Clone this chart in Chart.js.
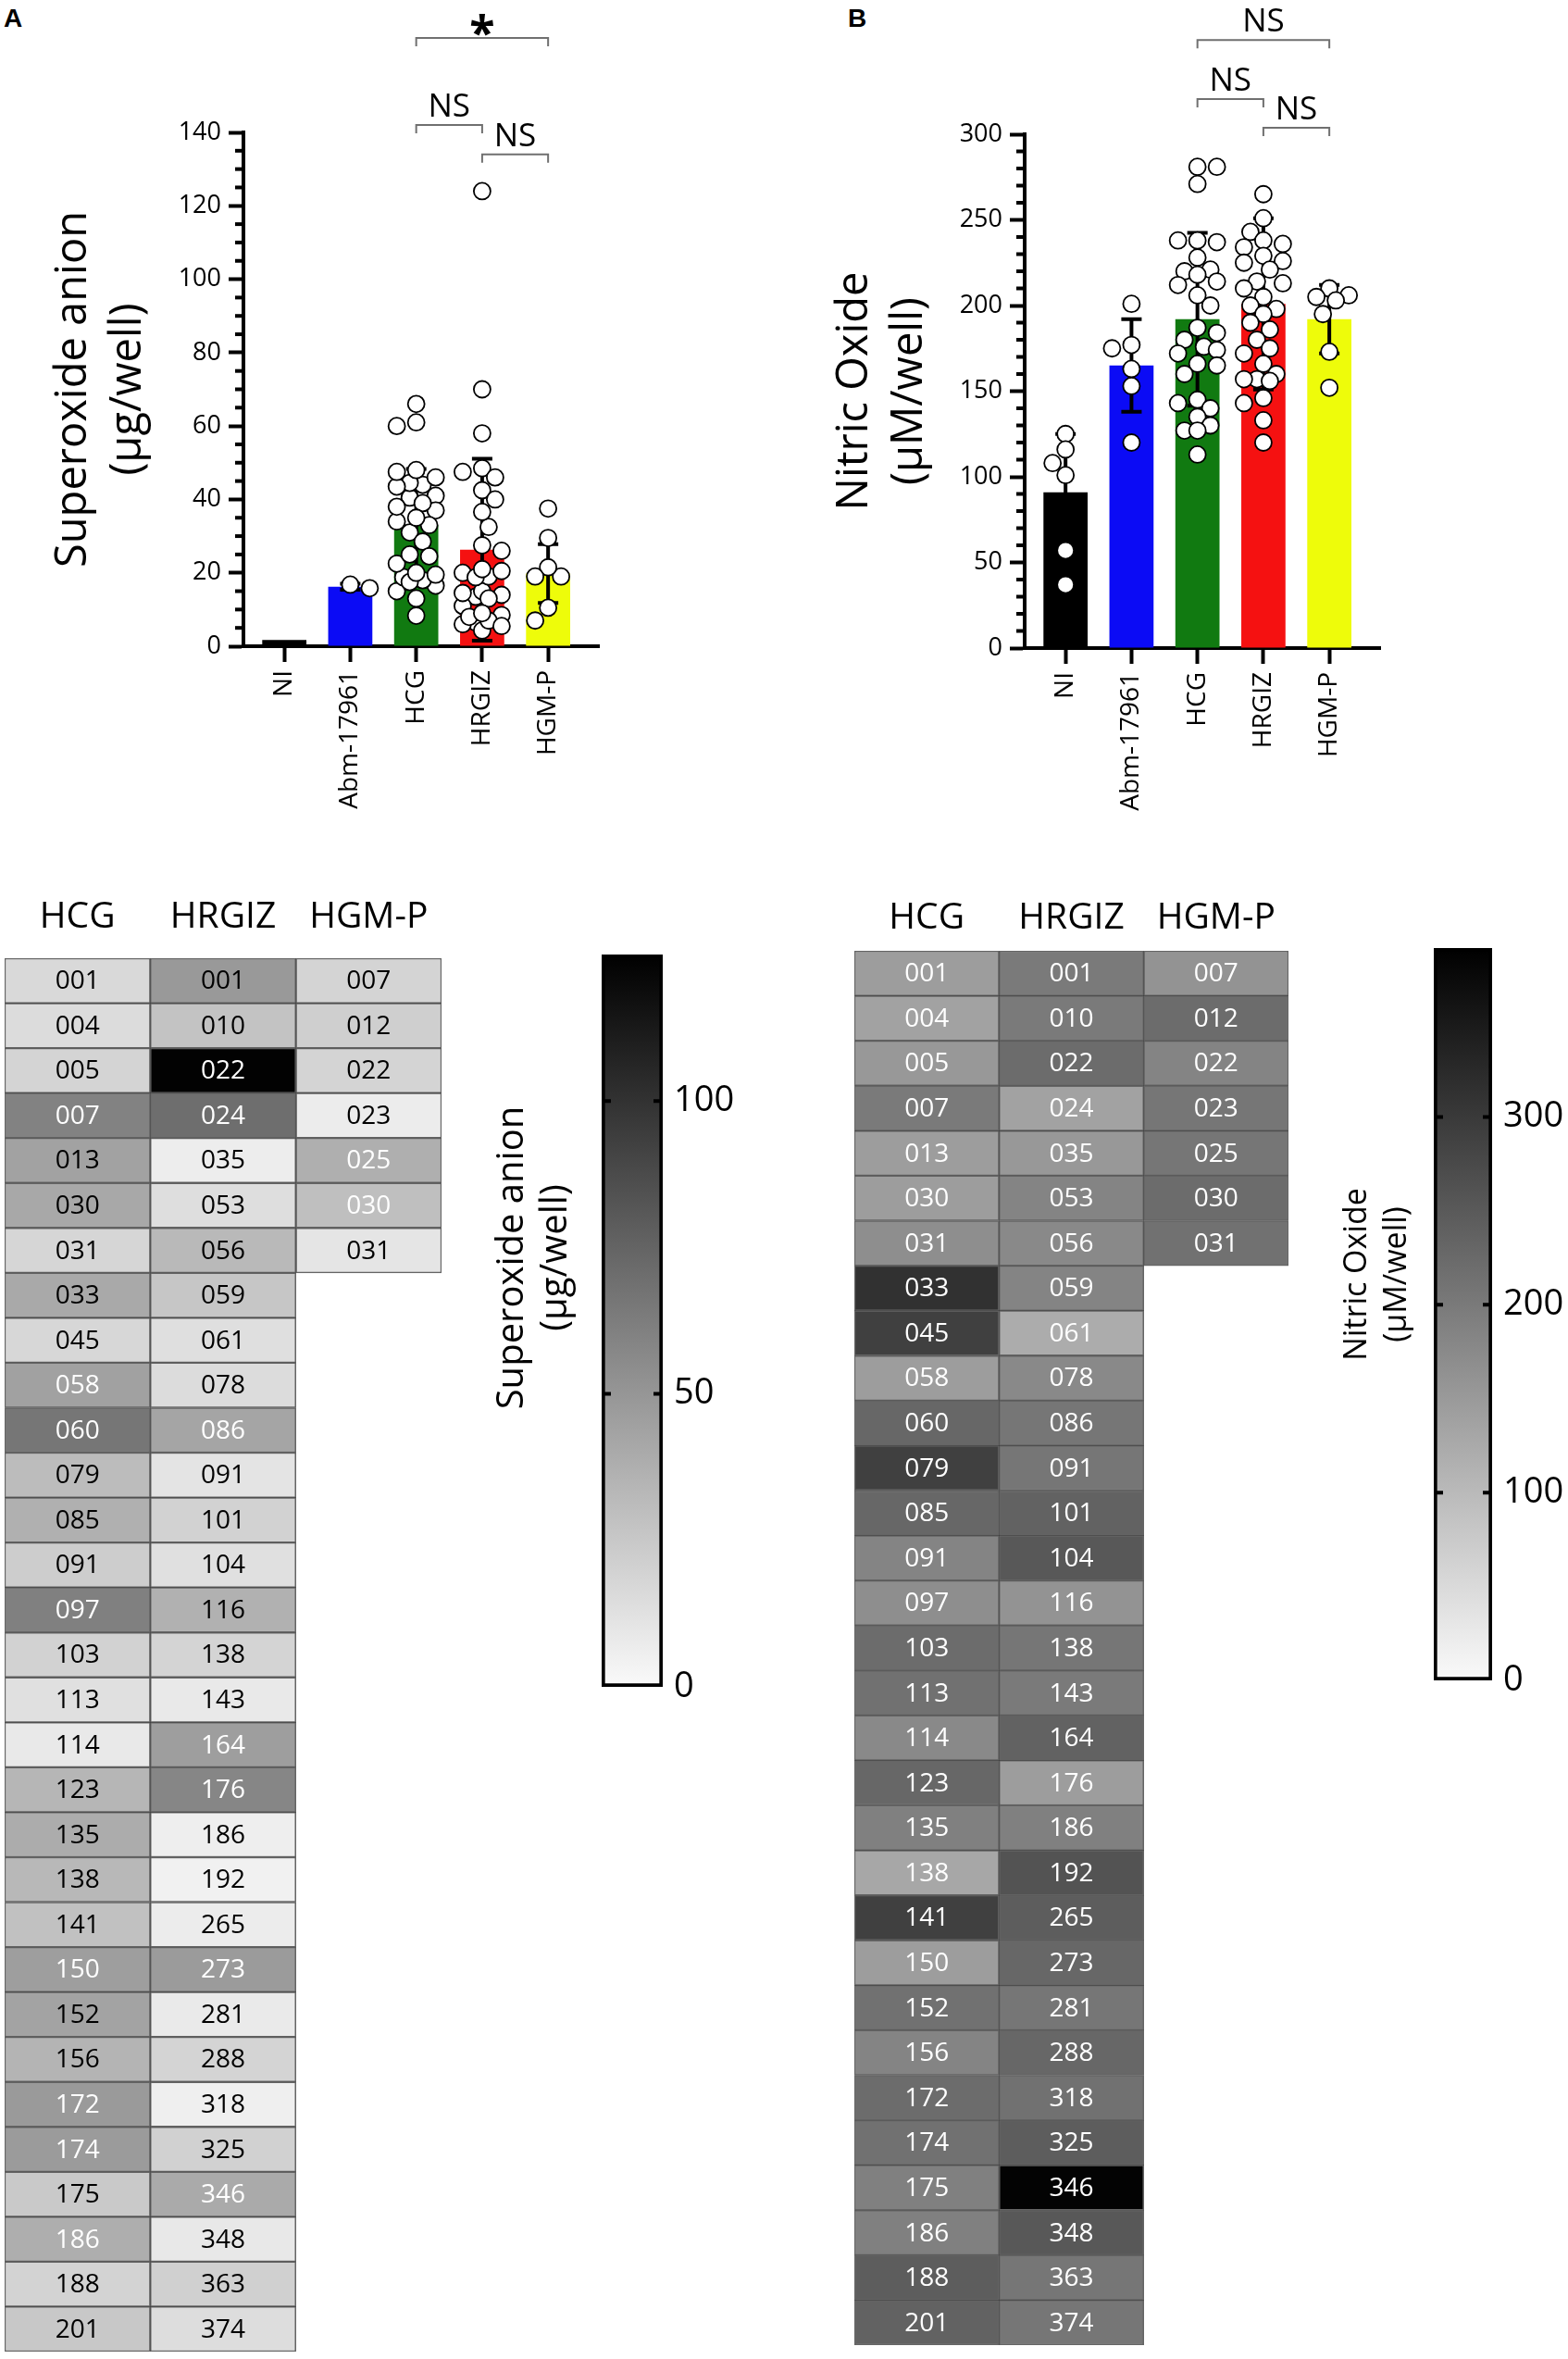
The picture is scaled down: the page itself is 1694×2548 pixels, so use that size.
<!DOCTYPE html>
<html>
<head>
<meta charset="utf-8">
<script src="https://cdn.jsdelivr.net/npm/chart.js@4.4.0/dist/chart.umd.min.js"></script>
<style>
  body { margin: 0; background: #fff; width: 1694px; height: 2548px; position: relative; overflow: hidden; }
  canvas { position: absolute; }
  .panel { position: absolute; font: bold 28px 'Liberation Sans', Arial, sans-serif; line-height: 1; }
</style>
</head>
<body>
<div class="panel" style="left:4px;top:6px">A</div>
<div class="panel" style="left:916px;top:6px">B</div>
<canvas id="barA" width="847" height="900" style="left:0;top:0"></canvas>
<canvas id="barB" width="847" height="900" style="left:844px;top:2px"></canvas>
<canvas id="heatA" width="500" height="1608" style="left:0;top:940px"></canvas>
<canvas id="scaleA" width="347" height="900" style="left:500px;top:980px"></canvas>
<canvas id="heatB" width="520" height="1611" style="left:900px;top:937px"></canvas>
<canvas id="scaleB" width="294" height="900" style="left:1400px;top:975px"></canvas>
<script>
// grupos del grafico de barras
const groups = ['NI', 'Abm-17961', 'HCG', 'HRGIZ', 'HGM-P'];
const columns = ['HCG', 'HRGIZ', 'HGM-P'];

// aislados de cada linaje
const hcgIds = ['001', '004', '005', '007', '013', '030', '031', '033', '045', '058', '060', '079', '085', '091', '097', '103',
  '113', '114', '123', '135', '138', '141', '150', '152', '156', '172', '174', '175', '186', '188', '201'];
const hrgizIds = ['001', '010', '022', '024', '035', '053', '056', '059', '061', '078', '086', '091', '101', '104', '116', '138',
  '143', '164', '176', '186', '192', '265', '273', '281', '288', '318', '325', '346', '348', '363', '374'];
const hgmpIds = ['007', '012', '022', '023', '025', '030', '031'];

// superoxido (A)
const supMean = [1.7, 16.2, 33, 26.3, 19.8];
const supSD = [0, 0.8, 15.3, 24.8, 8];
const supNI = [];
const supAbm = [15.8, 16.8];
const supHCG = [16.5, 15, 18.8, 60, 44, 41, 18, 40.5, 17.5, 44.5, 66, 31, 37, 22.5, 61, 20,
  13, 8.3, 34, 39, 33, 28.5, 46, 43.5, 35, 48, 47.5, 24.5, 38, 19.5, 25];
const supHRGIZ = [48.5, 27.5, 124, 70, 6.5, 14, 32.5, 26, 13.5, 15, 42.5, 11, 20, 13, 36.6, 19,
  8.5, 46, 58, 6, 4.3, 7, 47.5, 8, 18.8, 5.5, 20.5, 40, 9, 21, 14.5];
const supHGMP = [19, 21.5, 19, 7, 37.5, 29.5, 10.5];
const supTicks = [0, 20, 40, 60, 80, 100, 120, 140];
const supScaleTicks = [0, 50, 100];
const supCompare = [[2, 4, '*'], [2, 3, 'NS'], [3, 4, 'NS']];
// etiquetas blancas en el mapa de calor A
const supWhite = [['007', '058', '060', '097', '150', '172', '174', '186'],
  ['022', '024', '086', '164', '176', '273', '346'], ['025', '030']];

// oxido nitrico (B)
const noMean = [91, 165, 192, 201, 192];
const noSD = [34, 27, 50.5, 50, 20];
const noNI = [125, 116, 108, 101, 57, 37];
const noAbm = [201, 175, 177, 163, 153, 120];
const noHCG = [281, 281, 271, 238, 238, 237, 228, 221, 220, 218, 214, 212, 206, 200, 187, 184,
  180, 176, 174, 172, 166, 165, 160, 145, 143, 140, 135, 130, 127, 127, 113];
const noHRGIZ = [265, 251, 243, 238, 236, 234, 229, 226, 225, 221, 214, 213, 210, 205, 200, 198,
  195, 190, 186, 180, 175, 172, 166, 160, 157, 157, 156, 146, 143, 133, 120];
const noHGMP = [210, 206, 203, 205, 195, 173, 152];
const noTicks = [0, 50, 100, 150, 200, 250, 300];
const noScaleTicks = [0, 100, 200, 300];
const noCompare = [[2, 4, 'NS'], [2, 3, 'NS'], [3, 4, 'NS']];
// valores del mapa de calor B
const noMapHCG = [145, 138, 153, 199, 145, 145, 168, 314, 290, 145, 229, 290, 229, 184, 168, 222,
  214, 176, 229, 191, 130, 290, 145, 214, 184, 222, 214, 191, 191, 245, 237];
const noMapHRGIZ = [199, 199, 222, 138, 153, 184, 176, 184, 122, 176, 206, 206, 237, 252, 160, 206,
  199, 237, 145, 191, 260, 245, 229, 206, 229, 214, 245, 385, 252, 206, 206];
const noMapHGMP = [160, 222, 184, 206, 206, 222, 214];

const barColors = ['#000000', '#0b0bf5', '#117a11', '#f51111', '#eefc0a'];

Chart.defaults.font.family = "'Open Sans', sans-serif";
Chart.defaults.color = '#000';

function gray(v, max) {
  const g = Math.round(250 * (1 - Math.min(v, max) / max));
  return 'rgb(' + g + ',' + g + ',' + g + ')';
}

// marcas menores del eje y
const minorTicks = {
  id: 'minorTicks',
  afterDraw(chart, args, opts) {
    if (!opts.step) return;
    const { ctx, chartArea } = chart;
    const y = chart.scales.y;
    ctx.save();
    ctx.strokeStyle = '#000';
    ctx.lineWidth = 4;
    for (let v = 0; v <= y.max + 1e-9; v += opts.step) {
      if (opts.major.includes(v)) continue;
      const py = y.getPixelForValue(v);
      ctx.beginPath();
      ctx.moveTo(chartArea.left - 9, py);
      ctx.lineTo(chartArea.left, py);
      ctx.stroke();
    }
    ctx.restore();
  }
};

// barras de error (media +/- DE)
const errorBars = {
  id: 'errorBars',
  afterDatasetDraw(chart, args, opts) {
    if (args.index !== 0 || !opts.sd) return;
    const { ctx } = chart;
    const { x, y } = chart.scales;
    ctx.save();
    ctx.strokeStyle = '#000';
    ctx.lineWidth = 4;
    opts.mean.forEach((m, i) => {
      const sd = opts.sd[i];
      if (!sd) return;
      const px = x.getPixelForValue(i);
      const top = y.getPixelForValue(m + sd);
      const bot = y.getPixelForValue(Math.max(0, m - sd));
      ctx.beginPath();
      ctx.moveTo(px, top); ctx.lineTo(px, bot);
      ctx.moveTo(px - 11, top); ctx.lineTo(px + 11, top);
      ctx.moveTo(px - 11, bot); ctx.lineTo(px + 11, bot);
      ctx.stroke();
    });
    ctx.restore();
  }
};

// corchetes de comparacion
const brackets = {
  id: 'brackets',
  afterDraw(chart, args, opts) {
    if (!opts.items) return;
    const { ctx } = chart;
    const { x, y } = chart.scales;
    ctx.save();
    opts.items.forEach(([a, b, label], k) => {
      const x1 = x.getPixelForValue(a);
      const x2 = x.getPixelForValue(b);
      const yy = y.getPixelForValue(opts.levels[k]);
      ctx.strokeStyle = '#707070';
      ctx.lineWidth = 2;
      ctx.beginPath();
      ctx.moveTo(x1, yy + 9); ctx.lineTo(x1, yy); ctx.lineTo(x2, yy); ctx.lineTo(x2, yy + 9);
      ctx.stroke();
      ctx.fillStyle = '#000';
      ctx.textAlign = 'center';
      ctx.textBaseline = 'alphabetic';
      if (label === '*') {
        ctx.font = "bold 50px 'Open Sans'";
        ctx.fillText(label, (x1 + x2) / 2, yy + 12);
      } else {
        ctx.font = "35px 'Open Sans'";
        ctx.fillText(label, (x1 + x2) / 2, yy - 9);
      }
    });
    ctx.restore();
  }
};

// numeros de aislado dentro de las celdas
const cellLabels = {
  id: 'cellLabels',
  afterDatasetsDraw(chart, args, opts) {
    if (!opts.ids) return;
    const { ctx } = chart;
    ctx.save();
    ctx.font = "28px 'Open Sans'";
    ctx.textAlign = 'center';
    ctx.textBaseline = 'middle';
    chart.data.datasets.forEach((ds, r) => {
      chart.getDatasetMeta(r).data.forEach((el, c) => {
        const id = opts.ids[c][r];
        if (id === undefined) return;
        const white = opts.allWhite || opts.white[c].includes(id);
        ctx.fillStyle = white ? '#fff' : '#000';
        ctx.fillText(id, el.x, (el.y + el.base) / 2 + 1);
      });
    });
    ctx.restore();
  }
};

// marcas y titulo de la barra de color
const colorBarDeco = {
  id: 'colorBarDeco',
  afterDraw(chart, args, opts) {
    if (!opts.title) return;
    const { ctx, chartArea } = chart;
    const y = chart.scales.y;
    ctx.save();
    ctx.strokeStyle = '#000';
    ctx.lineWidth = 4;
    opts.ticks.forEach(v => {
      if (v === 0) return;
      const py = y.getPixelForValue(v);
      ctx.beginPath();
      ctx.moveTo(chartArea.left, py); ctx.lineTo(chartArea.left + 10, py);
      ctx.moveTo(chartArea.right - 10, py); ctx.lineTo(chartArea.right, py);
      ctx.stroke();
    });
    ctx.fillStyle = '#000';
    ctx.font = opts.size + "px 'Open Sans'";
    ctx.textAlign = 'center';
    ctx.textBaseline = 'middle';
    const cy = (chartArea.top + chartArea.bottom) / 2 + opts.dy;
    opts.title.forEach((line, i) => {
      ctx.save();
      ctx.translate(chartArea.left + opts.dx[i], cy);
      ctx.rotate(-Math.PI / 2);
      ctx.fillText(line, 0, 0);
      ctx.restore();
    });
    ctx.restore();
  }
};

Chart.register(minorTicks, errorBars, brackets, cellLabels, colorBarDeco);

// reparte los puntos como enjambre dentro de cada barra
function swarm(chart) {
  const { x, y } = chart.scales;
  const unit = x.getPixelForValue(1) - x.getPixelForValue(0);
  const r = 9, step = 7, maxOff = 22;
  chart.data.datasets.forEach(ds => {
    if (ds.type !== 'scatter') return;
    const placed = [];
    const pts = ds.data.slice().sort((a, b) => b.y - a.y);
    pts.forEach((p, n0) => {
      const cx = x.getPixelForValue(p.x), cy = y.getPixelForValue(p.y);
      let best = 0, bestD = -1, done = false;
      for (let n = 0; n * step <= maxOff && !done; n++) {
        const signs = n === 0 ? [1] : (n0 % 2 ? [1, -1] : [-1, 1]);
        for (const s of signs) {
          const off = s * n * step;
          let d = Infinity;
          placed.forEach(q => { d = Math.min(d, Math.hypot(q.px - (cx + off), q.py - cy)); });
          if (d >= 2 * r * 0.92) { best = off; done = true; break; }
          if (d > bestD) { bestD = d; best = off; }
        }
      }
      placed.push({ px: cx + best, py: cy });
      p.x = p.x + best / unit;
    });
  });
  chart.update('none');
}

function barChart(id, cfg) {
  const points = cfg.points.map((vals, i) => ({
    type: 'scatter',
    data: vals.map(v => ({ x: i, y: v })),
    pointRadius: 9,
    pointHoverRadius: 9,
    pointBackgroundColor: '#fff',
    pointBorderColor: '#000',
    pointBorderWidth: 1.8,
    order: 1
  }));
  const chart = new Chart(document.getElementById(id), {
    type: 'bar',
    data: {
      datasets: [{
        data: cfg.means.map((m, i) => ({ x: i, y: m })),
        backgroundColor: barColors,
        barPercentage: 0.67,
        categoryPercentage: 1,
        order: 2
      }, ...points]
    },
    options: {
      responsive: false,
      animation: false,
      events: [],
      layout: { padding: { left: 50, top: 143, right: 200, bottom: 0 } },
      plugins: {
        legend: { display: false },
        tooltip: { enabled: false },
        minorTicks: { step: cfg.minor, major: cfg.ticks },
        errorBars: { mean: cfg.means, sd: cfg.sd },
        brackets: { items: cfg.compare, levels: cfg.levels }
      },
      scales: {
        x: {
          type: 'linear',
          min: -0.62,
          max: 4.77,
          offset: false,
          afterBuildTicks: s => { s.ticks = groups.map((g, i) => ({ value: i })); },
          afterFit: s => { s.height = 202; },
          ticks: {
            callback: v => groups[v],
            minRotation: 90,
            maxRotation: 90,
            autoSkip: false,
            padding: 9,
            font: { size: 28 }
          },
          grid: { drawOnChartArea: false, offset: false, tickLength: 17, tickWidth: 4, tickColor: '#000' },
          border: { width: 4, color: '#000' }
        },
        y: {
          min: 0,
          max: cfg.max,
          afterBuildTicks: s => { s.ticks = cfg.ticks.map(v => ({ value: v })); },
          afterFit: s => { s.width = 213; },
          ticks: { padding: 8, font: { size: 27 } },
          grid: { drawOnChartArea: false, tickLength: 16, tickWidth: 4, tickColor: '#000' },
          border: { width: 4, color: '#000' },
          title: { display: true, text: cfg.title, font: { size: 47, lineHeight: 1.25 }, padding: 0 }
        }
      }
    }
  });
  swarm(chart);
}

function heatmap(id, cfg) {
  const nRows = Math.max(...cfg.ids.map(c => c.length));
  const datasets = [];
  for (let r = 0; r < nRows; r++) {
    datasets.push({
      data: cfg.vals.map(c => (r < c.length ? 1 : null)),
      backgroundColor: cfg.vals.map(c => (r < c.length ? gray(c[r], cfg.max) : 'rgba(0,0,0,0)')),
      borderColor: 'rgba(50,50,50,0.75)',
      borderWidth: 1.5,
      borderSkipped: false,
      barPercentage: 1,
      categoryPercentage: 1
    });
  }
  new Chart(document.getElementById(id), {
    type: 'bar',
    data: { labels: columns, datasets },
    options: {
      responsive: false,
      animation: false,
      events: [],
      layout: { padding: cfg.pad },
      plugins: {
        legend: { display: false },
        tooltip: { enabled: false },
        cellLabels: { ids: cfg.ids, white: cfg.white, allWhite: cfg.allWhite }
      },
      scales: {
        x: {
          position: 'top',
          stacked: true,
          grid: { display: false, drawTicks: false, tickLength: 0 },
          border: { display: false },
          ticks: { font: { size: 39 }, padding: cfg.headPad },
          afterFit: s => { s.height = cfg.headH; }
        },
        y: { display: false, stacked: true, reverse: true, min: 0, max: nRows }
      }
    }
  });
}

function colorBar(id, cfg) {
  new Chart(document.getElementById(id), {
    type: 'bar',
    data: {
      labels: [''],
      datasets: [{
        data: [cfg.max],
        backgroundColor: ctx => {
          const c = ctx.chart;
          const y = c.scales.y;
          if (!c.chartArea || !y) return '#fff';
          const g = c.ctx.createLinearGradient(0, y.getPixelForValue(0), 0, y.getPixelForValue(cfg.max));
          g.addColorStop(0, gray(0, cfg.max));
          g.addColorStop(1, gray(cfg.max, cfg.max));
          return g;
        },
        borderColor: '#000',
        borderWidth: 4,
        borderSkipped: false,
        barPercentage: 1,
        categoryPercentage: 1
      }]
    },
    options: {
      responsive: false,
      animation: false,
      events: [],
      layout: { padding: cfg.pad },
      plugins: {
        legend: { display: false },
        tooltip: { enabled: false },
        colorBarDeco: { ticks: cfg.ticks, title: cfg.title, size: cfg.titleSize, dx: cfg.dx, dy: cfg.dy }
      },
      scales: {
        x: { display: false },
        y: {
          position: 'right',
          min: 0,
          max: cfg.max,
          afterBuildTicks: s => { s.ticks = cfg.ticks.map(v => ({ value: v })); },
          afterFit: s => { s.width = cfg.axisW; },
          ticks: { padding: 12, font: { size: 38 } },
          grid: { display: false, drawTicks: false },
          border: { display: false }
        }
      }
    }
  });
}

barChart('barA', {
  means: supMean, sd: supSD, points: [supNI, supAbm, supHCG, supHRGIZ, supHGMP],
  max: 140, ticks: supTicks, minor: 5, title: ['Superoxide anion', '(μg/well)'],
  compare: supCompare, levels: [165.7, 142, 134]
});
barChart('barB', {
  means: noMean, sd: noSD, points: [noNI, noAbm, noHCG, noHRGIZ, noHGMP],
  max: 300, ticks: noTicks, minor: 10, title: ['Nitric Oxide', '(μM/well)'],
  compare: noCompare, levels: [355, 320.5, 303.8]
});

heatmap('heatA', {
  ids: [hcgIds, hrgizIds, hgmpIds], vals: [supHCG, supHRGIZ, supHGMP], max: 125,
  white: supWhite, allWhite: false, headH: 95, headPad: 21,
  pad: { left: 5, right: 23, top: 0, bottom: 8 }
});
heatmap('heatB', {
  ids: [hcgIds, hrgizIds, hgmpIds], vals: [noMapHCG, noMapHRGIZ, noMapHGMP], max: 390,
  white: [[], [], []], allWhite: true, headH: 90, headPad: 12,
  pad: { left: 23, right: 28, top: 0, bottom: 15 }
});

colorBar('scaleA', {
  max: 125, ticks: supScaleTicks, title: ['Superoxide anion', '(μg/well)'], titleSize: 40,
  dx: [-96, -49], dy: -68, axisW: 131,
  pad: { left: 150, right: 0, top: 51, bottom: 58 }
});
colorBar('scaleB', {
  max: 390, ticks: noScaleTicks, title: ['Nitric Oxide', '(μM/well)'], titleSize: 34,
  dx: [-83, -40], dy: -43, axisW: 82,
  pad: { left: 149, right: 0, top: 49, bottom: 60 }
});
</script>
</body>
</html>
